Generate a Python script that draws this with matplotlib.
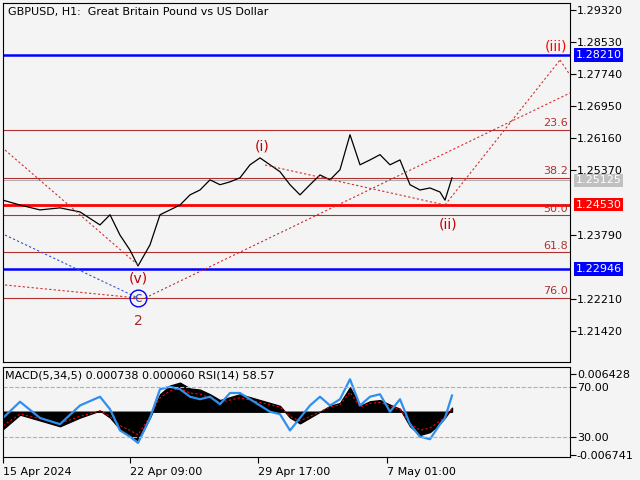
import matplotlib
matplotlib.use("Agg")
import matplotlib.pyplot as plt
import numpy as np

W, H = 640, 480
bars = [3,20,40,60,80,100,110,120,130,138,150,160,170,180,190,200,210,220,230,240,250,260,270,280,290,300,310,320,330,340,350,360,370,380,390,400,410,420,430,440,445,452]
close = [1.2464,1.2452,1.2440,1.2445,1.2435,1.2403,1.2428,1.2378,1.2341,1.2302,1.2354,1.2428,1.2440,1.2452,1.2477,1.2489,1.2514,1.2502,1.2509,1.2519,1.2551,1.2568,1.2551,1.2534,1.2502,1.2477,1.2502,1.2526,1.2514,1.2539,1.2625,1.2551,1.2563,1.2576,1.2551,1.2563,1.2502,1.2489,1.2494,1.2484,1.2464,1.2519]
macd = [-0.003,-0.0005,-0.0015,-0.0025,-0.001,0.0002,-0.001,-0.003,-0.004,-0.005,-0.001,0.003,0.0045,0.005,0.004,0.0038,0.003,0.002,0.0025,0.003,0.0025,0.002,0.0015,0.001,-0.001,-0.002,-0.001,0.0,0.001,0.0015,0.0042,0.001,0.0018,0.002,0.0012,0.0005,-0.0025,-0.004,-0.0035,-0.002,-0.001,0.0007]
rsi = [45,58,45,40,55,62,52,35,30,25,45,68,70,68,62,60,62,56,65,65,60,55,50,48,35,45,55,62,55,60,76,55,62,64,50,60,40,30,28,40,45,63]

levels_fib = [1.2637, 1.2519, 1.2427, 1.2336, 1.2223]
fib_names = ["23.6", "38.2", "50.0", "61.8", "76.0"]
blue_levels = [1.28210, 1.22946]
red_level = 1.24530
cur = 1.25125
yticks = [1.29320,1.28530,1.27740,1.26950,1.26160,1.25370,1.23790,1.22210,1.21420]
xdates = [3,130,258,387]
xlabels = ["15 Apr 2024","22 Apr 09:00","29 Apr 17:00","7 May 01:00"]

def y2p(y): return 1.29320 - (y-10)/4063.0

fig = plt.figure(figsize=(6.4,4.8), dpi=100, facecolor="#f4f4f4")
ax = fig.add_axes([3/W, 1-362/H, 567/W, 359/H])
ax2 = fig.add_axes([3/W, 1-457/H, 567/W, 90/H])
for a in (ax, ax2):
    a.set_facecolor("#f4f4f4")
    a.set_xlim(3, 570)
    a.yaxis.tick_right()
    for s in a.spines.values(): s.set_color("black")
    a.tick_params(labelsize=8, length=4, pad=1, direction="out", colors="black")
ax.set_ylim(y2p(362), y2p(3))
ax.set_yticks(yticks)
ax.set_yticklabels([f"{t:.5f}" for t in yticks])
ax.set_xticks([])

for lv, nm in zip(levels_fib, fib_names):
    ax.axhline(lv, color="#b03030", lw=0.8)
    ax.text(568, lv+0.0004, nm, color="#b03030", fontsize=8, ha="right", va="bottom")
ax.axhline(cur, color="#b0b0b0", lw=0.8)
for b in blue_levels:
    ax.axhline(b, color="blue", lw=1.8)
ax.axhline(red_level, color="red", lw=2)
ax.plot(bars, close, color="black", lw=0.9)

dots = [((5,150),(138,265),"#d03030"),((5,235),(138,298),"#3050d0"),((5,285),(138,298),"#d03030"),
        ((145,298),(570,93),"#d03030"),((265,165),(445,205),"#d03030"),((445,205),(560,60),"#d03030"),((560,60),(570,75),"#d03030")]
for (x1,y1),(x2,y2),c in dots:
    ax.plot([x1,x2],[y2p(y1),y2p(y2)],ls=(0,(2,2)),color=c,lw=0.8)
ax.plot([138],[y2p(298)],'o',ms=12,mfc="none",mec="blue",mew=1)
for x,y,t,c in [(138,278,"(v)","#c00000"),(138,298,"c","#3050d0"),(138,321,"2","#a52a2a"),(262,147,"(i)","#c00000"),(448,224,"(ii)","#c00000"),(556,47,"(iii)","red")]:
    ax.text(x,y2p(y),t,color=c,fontsize=10,ha="center",va="center")
for val,bg,fg in [(1.28210,"blue","white"),(red_level,"red","white"),(1.22946,"blue","white"),(cur,"#c0c0c0","white")]:
    ax.text(1.01, val, f"{val:.5f}", transform=ax.get_yaxis_transform(), fontsize=8, color=fg, va="center", ha="left",
            bbox=dict(boxstyle="square,pad=0.15", fc=bg, ec="none"), clip_on=False)
ax.text(8, y2p(12), "GBPUSD, H1:  Great Britain Pound vs US Dollar", fontsize=8, va="center")

# lower pane
ax2.set_ylim(-0.0078, 0.0077)
xs = np.array(bars)
ax2.fill_between(xs, 0, macd, color="black")
ax2.plot(xs, np.array(macd)*0.8, color="red", ls=(0,(2,2)), lw=0.8)
rsi_map = lambda r: (np.array(r)-50)/20*0.0043
ax2.plot(xs, rsi_map(rsi), color="#2f8fef", lw=1.6)
for r in (70, 30):
    ax2.axhline(rsi_map(r), color="#b0b0b0", ls="--", lw=0.8)
ax2.set_yticks([0.0065, rsi_map(70), rsi_map(30), -0.0075])
ax2.set_yticklabels(["0.006428","70.00","30.00","-0.006741"])
ax2.set_xticks(xdates)
ax2.set_xticklabels(xlabels, ha="left")
ax2.tick_params(axis="x", length=4, pad=3)
ax2.text(5, 0.0062, "MACD(5,34,5) 0.000738 0.000060 RSI(14) 58.57", fontsize=8, va="center")
fig.savefig("out.png", dpi=100, facecolor=fig.get_facecolor())
